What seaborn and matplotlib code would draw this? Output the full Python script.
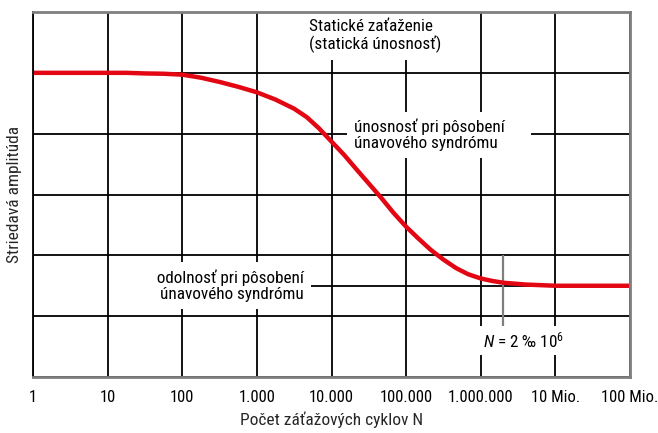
import matplotlib
matplotlib.use("Agg")
import matplotlib.pyplot as plt
import numpy as np
import pandas as pd
import seaborn as sns

# curve (log10 of cycles vs. amplitude in grid units)
log_cycles = [0, 0.5, 1, 1.25, 1.5, 1.75, 2, 2.25, 2.5, 2.75, 3, 3.25, 3.5, 3.67, 3.83,
              4, 4.17, 4.33, 4.5, 4.67, 4.83, 5, 5.17, 5.33, 5.5, 5.67, 5.83, 6, 6.15,
              6.3, 6.6, 7, 7.5, 8]
amplitude = [5.0, 5.0, 5.0, 5.0, 4.99, 4.985, 4.97, 4.92, 4.85, 4.77, 4.68, 4.56, 4.41, 4.27, 4.09,
             3.87, 3.65, 3.42, 3.18, 2.94, 2.70, 2.47, 2.27, 2.09, 1.93, 1.79, 1.69, 1.62, 1.58,
             1.55, 1.52, 1.5, 1.5, 1.5]
tick_pos = [1, 10, 100, 1e3, 1e4, 1e5, 1e6, 1e7, 1e8]
tick_labels = ['1', '10', '100', '1.000', '10.000', '100.000', '1.000.000', '10 Mio.', '100 Mio.']
endurance = 1.5
n_marker = 2e6

df = pd.DataFrame({'N': np.power(10.0, log_cycles), 'amp': amplitude})

sns.set_style('white')
plt.rcParams['font.family'] = ['Roboto Condensed', 'Roboto', 'DejaVu Sans']
plt.rcParams['mathtext.fontset'] = 'custom'
plt.rcParams['mathtext.rm'] = 'Roboto Condensed'
plt.rcParams['mathtext.it'] = 'Roboto Condensed:italic'
plt.rcParams['text.color'] = 'black'

fs = 12.3

fig = plt.figure(figsize=(6.58, 4.33), dpi=100)
ax = fig.add_axes([0.0502, 0.1293, 0.9072, 0.843])

sns.lineplot(data=df, x='N', y='amp', color='#e30613', lw=3.2, ax=ax, zorder=5)

ax.set_xscale('log')
ax.set_xlim(1, 1e8)
ax.set_ylim(0, 6)
ax.set_xticks(tick_pos)
ax.set_xticklabels(tick_labels, fontsize=12, color='black')
ax.minorticks_off()
ax.set_yticks(range(7))
ax.set_yticklabels([])
ax.tick_params(axis='x', length=0, pad=9)
ax.tick_params(axis='y', length=0, pad=0)
ax.set_axisbelow(True)
ax.grid(True, color='black', lw=1.3)

for s in ['top', 'right', 'bottom']:
    ax.spines[s].set_color('#7f7f7f')
    ax.spines[s].set_linewidth(2)
ax.spines['left'].set_color('black')
ax.spines['left'].set_linewidth(1.3)
for s in ax.spines.values():
    s.set_zorder(6)

ax.set_xlabel('Počet záťažových cyklov N', fontsize=12.5, labelpad=5)
ax.set_ylabel('Striedavá amplitúda', fontsize=12.5, labelpad=8)

# leader line for endurance level and N marker
ax.hlines(endurance, 10**3.69, 1e8, color='black', lw=1.3, zorder=2)
ax.vlines(n_marker, 0.77, 2.0, color='#7f7f7f', lw=1.6, zorder=2)

ax.text(10**3.7, 5.6, 'Statické zaťaženie\n(statická únosnosť)', fontsize=fs,
        ha='left', va='center', linespacing=1.1,
        bbox=dict(facecolor='white', edgecolor='none', pad=5), zorder=3)
ax.text(10**4.3, 3.98, 'únosnosť pri pôsobení     \núnavového syndrómu', fontsize=fs,
        ha='left', va='center', linespacing=1.1,
        bbox=dict(facecolor='white', edgecolor='none', pad=5), zorder=3)
ax.text(10**3.63, 1.5, '         odolnosť pri pôsobení\núnavového syndrómu', fontsize=fs,
        ha='right', va='center', linespacing=1.1, multialignment='right',
        bbox=dict(facecolor='white', edgecolor='none', pad=5), zorder=3)
ax.text(10**6.03, 0.6, r'$N$ = 2 ‰ 10$^{6}$', fontsize=fs,
        ha='left', va='center', bbox=dict(facecolor='white', edgecolor='none', pad=3), zorder=3)

fig.savefig('out.png', dpi=100)
